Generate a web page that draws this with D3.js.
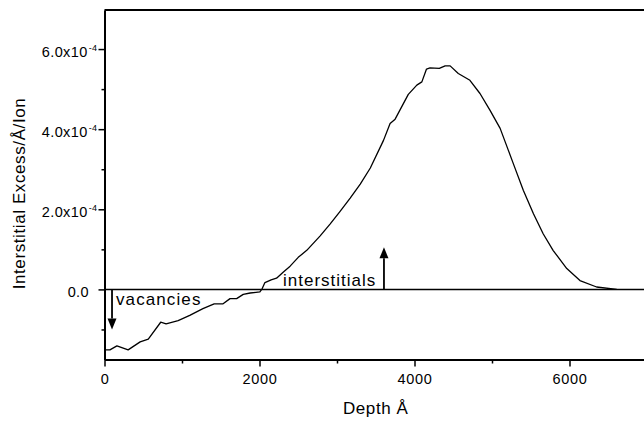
<!DOCTYPE html>
<html>
<head>
<meta charset="utf-8">
<script src="https://cdn.jsdelivr.net/npm/d3@7"></script>
<style>
  html, body { margin: 0; padding: 0; background: #fff; }
  svg { display: block; font-family: "Liberation Sans", Arial, sans-serif; }
</style>
</head>
<body>
<svg id="chart" width="644" height="422"></svg>
<script>
// ---- data ----
const depth = [0, 70, 160, 305, 460, 565, 725, 795, 950, 1100, 1270, 1415, 1530, 1620, 1705, 1790, 1880, 2005, 2035, 2070, 2150, 2220, 2305, 2395, 2500, 2610, 2780, 2910, 3040, 3170, 3300, 3430, 3600, 3685, 3750, 3920, 4030, 4095, 4155, 4200, 4320, 4395, 4460, 4565, 4715, 4845, 4975, 5105, 5275, 5405, 5535, 5660, 5790, 5965, 6135, 6350, 6610];
const excess = [-1.51e-4, -1.51e-4, -1.41e-4, -1.51e-4, -1.31e-4, -1.24e-4, -0.82e-4, -0.86e-4, -0.78e-4, -0.65e-4, -0.48e-4, -0.36e-4, -0.36e-4, -0.23e-4, -0.23e-4, -0.125e-4, -0.09e-4, -0.06e-4, 0.02e-4, 0.17e-4, 0.24e-4, 0.28e-4, 0.43e-4, 0.58e-4, 0.80e-4, 0.975e-4, 1.33e-4, 1.63e-4, 1.95e-4, 2.28e-4, 2.63e-4, 3.03e-4, 3.72e-4, 4.14e-4, 4.25e-4, 4.87e-4, 5.10e-4, 5.18e-4, 5.50e-4, 5.53e-4, 5.52e-4, 5.58e-4, 5.58e-4, 5.39e-4, 5.22e-4, 4.89e-4, 4.47e-4, 4.02e-4, 3.14e-4, 2.47e-4, 1.89e-4, 1.39e-4, 0.97e-4, 0.52e-4, 0.22e-4, 0.06e-4, 0.0];
const xTicks = [0, 2000, 4000, 6000];
const xMinorTicks = [1000, 3000, 5000, 7000];
const yTicks = [0, 2e-4, 4e-4, 6e-4];
const yTickMantissa = ["0.0", "2.0x10", "4.0x10", "6.0x10"];
const yTickExponent = ["", "-4", "-4", "-4"];
const yMinorTicks = [-1e-4, 1e-4, 3e-4, 5e-4];
const xDomain = [0, 7000];
const yDomain = [-1.75e-4, 6.975e-4];
const annotations = [
  { label: "vacancies", depth: 97, from: 0, to: -1.0e-4 },
  { label: "interstitials", depth: 3606, from: 0, to: 1.05e-4 }
];

// ---- layout ----
const svg = d3.select("#chart");
const mLeft = 104.5, mTop = 10, mRight = 647, mBottom = 359.5;
const x = d3.scaleLinear().domain(xDomain).range([mLeft, mRight]);
const y = d3.scaleLinear().domain(yDomain).range([mBottom, mTop]);

// frame: top line
svg.append("line").attr("x1", mLeft).attr("x2", mRight).attr("y1", mTop).attr("y2", mTop)
  .attr("stroke", "#000").attr("stroke-width", 2);

// x axis (bottom)
const gx = svg.append("g").attr("transform", `translate(0,${mBottom})`)
  .call(d3.axisBottom(x).tickValues(xTicks).tickFormat(d3.format("d")).tickSize(7).tickSizeOuter(0));
gx.select(".domain").attr("stroke-width", 2);
gx.selectAll(".tick line").attr("stroke-width", 1.5);
gx.selectAll(".tick text").attr("font-size", 14.5).attr("letter-spacing", 0.7)
  .attr("font-family", "Liberation Sans, Arial, sans-serif").attr("dy", "1.0em");
const gxm = svg.append("g").attr("transform", `translate(0,${mBottom})`)
  .call(d3.axisBottom(x).tickValues(xMinorTicks).tickFormat("").tickSize(4).tickSizeOuter(0));
gxm.select(".domain").remove();
gxm.selectAll(".tick line").attr("stroke-width", 1.5);

// y axis (left)
const gy = svg.append("g").attr("transform", `translate(${mLeft},0)`)
  .call(d3.axisLeft(y).tickValues(yTicks).tickFormat("").tickSize(6).tickSizeOuter(0));
gy.select(".domain").attr("stroke-width", 2);
gy.selectAll(".tick line").attr("stroke-width", 1.5);
const gym = svg.append("g").attr("transform", `translate(${mLeft},0)`)
  .call(d3.axisLeft(y).tickValues(yMinorTicks).tickFormat("").tickSize(3).tickSizeOuter(0));
gym.select(".domain").remove();
gym.selectAll(".tick line").attr("stroke-width", 1.5);

// y tick labels with superscript exponent
yTicks.forEach((v, i) => {
  const t = svg.append("text")
    .attr("x", yTickExponent[i] ? mLeft - 7 : mLeft - 15.5)
    .attr("y", y(v) + 7.5)
    .attr("text-anchor", "end")
    .attr("font-size", 14.5)
    .attr("letter-spacing", 0.4)
    .attr("fill", "#000");
  t.append("tspan").text(yTickMantissa[i]);
  if (yTickExponent[i]) {
    t.append("tspan").attr("font-size", 9).attr("dy", -5.5).attr("dx", 1).text(yTickExponent[i]);
  }
});

// zero reference line
svg.append("line").attr("x1", x(0)).attr("x2", x(7000)).attr("y1", y(0)).attr("y2", y(0))
  .attr("stroke", "#000").attr("stroke-width", 1.5);

// data curve
const pts = depth.map((d, i) => [d, excess[i]]);
svg.append("path").datum(pts)
  .attr("fill", "none").attr("stroke", "#000").attr("stroke-width", 1.3)
  .attr("stroke-linejoin", "round")
  .attr("d", d3.line().x(d => x(d[0])).y(d => y(d[1])));

// arrows
annotations.forEach(a => {
  const x0 = x(a.depth), y0 = y(a.from), y1 = y(a.to);
  const dir = y1 > y0 ? 1 : -1;
  const headLen = 11, headW = 4.5;
  svg.append("line").attr("x1", x0).attr("x2", x0).attr("y1", y0).attr("y2", y1 - dir * headLen)
    .attr("stroke", "#000").attr("stroke-width", 1.8);
  svg.append("path")
    .attr("d", `M${x0 - headW},${y1 - dir * headLen} L${x0 + headW},${y1 - dir * headLen} L${x0},${y1} Z`)
    .attr("fill", "#000");
});

// annotation labels
svg.append("text").attr("x", 116).attr("y", 305).attr("font-size", 17).attr("letter-spacing", 1.1)
  .attr("fill", "#000").text("vacancies");
svg.append("text").attr("x", 283).attr("y", 286).attr("font-size", 17).attr("letter-spacing", 1.0)
  .attr("fill", "#000").text("interstitials");

// axis titles
svg.append("text").attr("x", (mLeft + mRight) / 2).attr("y", 414).attr("text-anchor", "middle")
  .attr("font-size", 17).attr("letter-spacing", 0.6).attr("fill", "#000").text("Depth Å");
svg.append("text").attr("transform", `translate(25,${(97 + 290) / 2}) rotate(-90)`)
  .attr("text-anchor", "middle").attr("font-size", 17).attr("letter-spacing", 0.6)
  .attr("fill", "#000").text("Interstitial Excess/Å/Ion");
</script>
</body>
</html>
